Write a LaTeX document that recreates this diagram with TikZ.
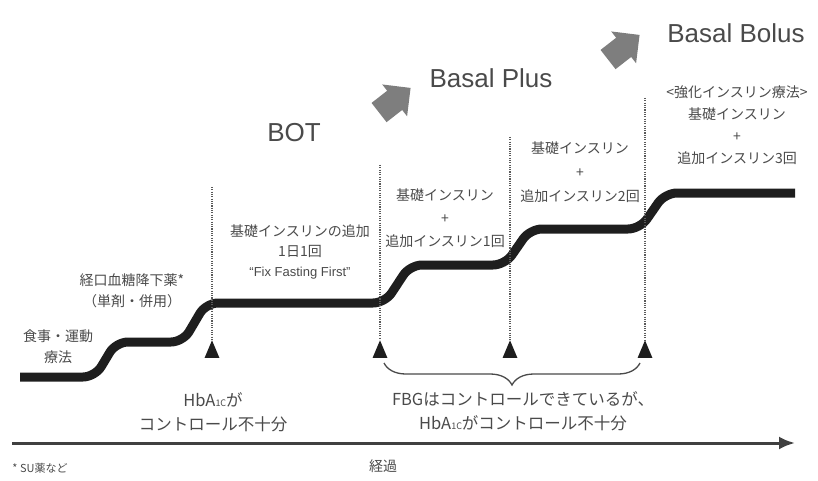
\documentclass[tikz,border=0pt]{standalone}
\usepackage{fontspec}
\setmainfont{Liberation Sans}
\newfontfamily\jp{Noto Sans CJK JP}
\usetikzlibrary{shapes.geometric,shapes.arrows,decorations.pathreplacing,arrows.meta}
\definecolor{txt}{HTML}{4A4A4A}
\definecolor{stair}{HTML}{1E1E1E}
\definecolor{arrowgray}{HTML}{7E7E7E}
\definecolor{dotgray}{HTML}{5A5A5A}
\newcommand{\hba}{HbA{\fontsize{9}{9}\selectfont 1C}}
\begin{document}
\begin{tikzpicture}[x=1pt,y=-1pt,
  lab/.style={text=txt,font=\jp\fontsize{14}{21}\selectfont,align=center,inner sep=0pt},
  biglab/.style={text=txt,font=\jp\fontsize{16.5}{24}\selectfont,align=center,inner sep=0pt},
  title/.style={text=txt,font=\fontsize{26}{30}\selectfont,inner sep=0pt},
  blockarrow/.style={single arrow,fill=arrowgray,draw=none,inner xsep=0pt,inner ysep=12pt,
     minimum height=40pt,single arrow head extend=8pt,rotate=38},
  tri/.style={regular polygon,regular polygon sides=3,fill=stair,draw=none,minimum size=18pt,
     inner sep=0pt,xscale=0.95,yscale=1.3},
  dotline/.style={draw=dotgray,line width=1.8pt,dash pattern=on 1.1pt off 1.2pt},
  stairline/.style={draw=stair,line width=9pt,rounded corners=12pt},
  axis/.style={draw=stair!85,line width=3pt,-{Latex[length=16pt,width=13pt]}},
  bracestyle/.style={draw=txt,line width=1.3pt,decorate,decoration={brace,amplitude=22pt,mirror}}
]
\useasboundingbox (0,0) rectangle (818,481);

% staircase
\draw[stairline] (20,377) -- (95,377) -- (116,342) -- (183,342) -- (206,303)
   -- (385,303) -- (410,265) -- (505,265) -- (530,229) -- (640,229) -- (665,193) -- (795,193);

% triangles and dotted lines
\node[tri] (t1) at (212,352) {};
\node[tri] (t2) at (380,352) {};
\node[tri] (t3) at (510,352) {};
\node[tri] (t4) at (645,352) {};
\coordinate (d1) at (212,187);
\coordinate (d2) at (380,165);
\coordinate (d3) at (510,137);
\coordinate (d4) at (645,98);
\draw[dotline] (d1) -- (t1.north);
\draw[dotline] (d2) -- (t2.north);
\draw[dotline] (d3) -- (t3.north);
\draw[dotline] (d4) -- (t4.north);

% brace
\coordinate (b1) at (384,363);
\coordinate (b2) at (640,363);
\draw[bracestyle] (b1) -- (b2);

% time axis
\coordinate (a1) at (12,443);
\coordinate (a2) at (795,443);
\draw[axis] (a1) -- (a2);

% titles
\node[title] (bot) at (294,133) {BOT};
\node[title] (bplus) at (491,78) {Basal Plus};
\node[title] (bbolus) at (736,33) {Basal Bolus};

% block arrows
\node[blockarrow] (ar1) at (390,104) {};
\node[blockarrow] (ar2) at (619,51) {};

% labels
\node[lab] (l0) at (58,347) {食事・運動\\療法};
\node[lab] (l1) at (132,291) {経口血糖降下薬*\\（単剤・併用）};
\node[lab,font=\jp\fontsize{14}{20}\selectfont] (l2) at (300,252) {基礎インスリンの追加\\1日1回\\{\rmfamily\fontsize{13}{20}\selectfont “Fix Fasting First”}};
\node[lab,font=\jp\fontsize{14}{23}\selectfont] (l3) at (445,218) {基礎インスリン\\+\\追加インスリン1回};
\node[lab,font=\jp\fontsize{14}{24}\selectfont] (l4) at (580,172) {基礎インスリン\\+\\追加インスリン2回};
\node[lab,font=\jp\fontsize{14}{22}\selectfont] (l5) at (737,125) {<強化インスリン療法>\\基礎インスリン\\+\\追加インスリン3回};

\node[biglab] (h1) at (213,412) {\hba が\\コントロール不十分};
\node[biglab] (h2) at (523,411) {FBGはコントロールできているが、\\\hba がコントロール不十分};

\node[lab] (time) at (383,466) {経過};
\node[lab,font=\jp\fontsize{11}{13}\selectfont] (note) at (40,468) {* SU薬など};
\end{tikzpicture}
\end{document}
